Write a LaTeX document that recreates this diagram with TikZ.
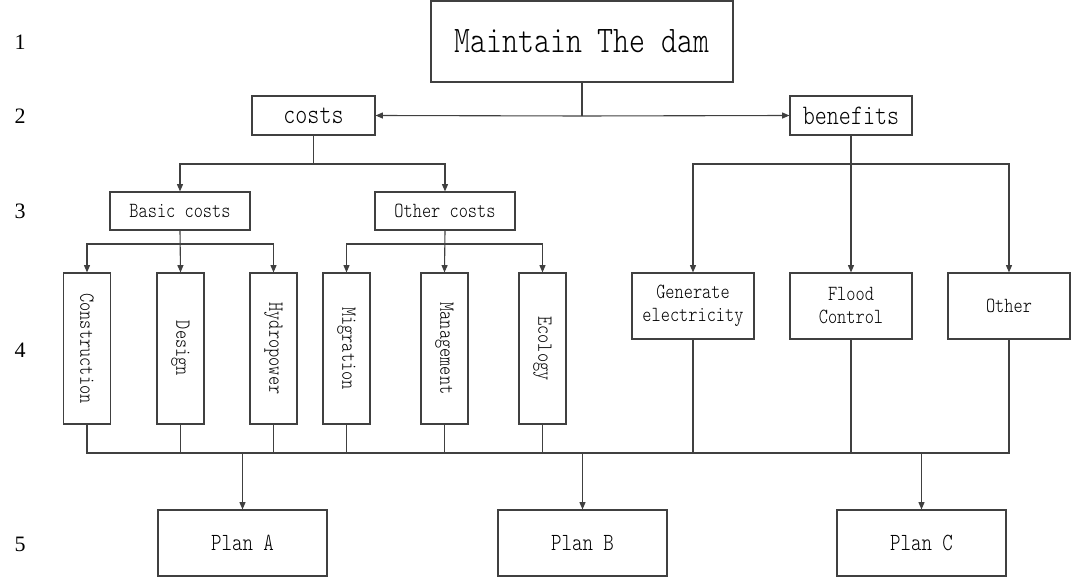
\documentclass[tikz,border=0pt]{standalone}
\usepackage{fontspec}
\usetikzlibrary{arrows.meta}
\newfontfamily\dmono[FakeStretch=0.81]{lmmonolt10-regular.otf}
\newfontfamily\dserif{Liberation Serif}
\def\px{0.75pt}
\tikzset{
  box/.style={draw=black!75, line width=1.1*\px, inner sep=0pt, align=center, text=black},
  lvl/.style={font=\dserif\fontsize{16.5}{18}\selectfont, inner sep=0pt},
  big/.style={box, font=\dmono\fontsize{28.2}{32}\selectfont},
  mid/.style={box, font=\dmono\fontsize{21.2}{24}\selectfont},
  sml/.style={box, font=\dmono\fontsize{16.2}{17.25}\selectfont},
  pln/.style={box, font=\dmono\fontsize{18.5}{21}\selectfont, minimum width=169*\px, minimum height=66*\px},
  vbox/.style={sml, minimum width=47*\px, minimum height=151*\px},
  hbox/.style={sml, minimum width=122*\px, minimum height=66*\px},
  ln/.style={draw=black!75, line width=1.1*\px},
  arr/.style={ln, -{Triangle[length=5.5pt,width=4.5pt]}},
}
\begin{document}
\begin{tikzpicture}[x=0.75pt, y=-0.75pt]
\useasboundingbox (0,0) rectangle (1072,577);
% level numbers
\node[lvl] (n1) at (20,42) {1};
\node[lvl] (n2) at (20,116) {2};
\node[lvl] (n3) at (20,211) {3};
\node[lvl] (n4) at (20,350) {4};
\node[lvl] (n5) at (20,544) {5};
% nodes
\node[big, minimum width=302*\px, minimum height=81*\px] (main) at (582,41.5) {Maintain The dam};
\node[mid, minimum width=123*\px, minimum height=39*\px] (costs) at (313.5,115.5) {costs};
\node[mid, minimum width=122*\px, minimum height=39*\px] (benefits) at (851,115.5) {benefits};
\node[sml, minimum width=140*\px, minimum height=38*\px] (basic) at (180,211) {Basic costs};
\node[sml, minimum width=140*\px, minimum height=38*\px] (othc) at (445,211) {Other costs};
\node[vbox] (cons) at (87,348.5) {\rotatebox{-90}{Construction}};
\node[vbox] (des) at (180.5,348.5) {\rotatebox{-90}{Design}};
\node[vbox] (hyd) at (273.5,348.5) {\rotatebox{-90}{Hydropower}};
\node[vbox] (mig) at (346.5,348.5) {\rotatebox{-90}{Migration}};
\node[vbox] (man) at (444.5,348.5) {\rotatebox{-90}{Management}};
\node[vbox] (eco) at (542.5,348.5) {\rotatebox{-90}{Ecology}};
\node[hbox] (gen) at (693,306) {Generate\\electricity};
\node[hbox] (flood) at (851,306) {Flood\\Control};
\node[hbox] (oth) at (1009,306) {Other};
\node[pln] (pa) at (242.5,543) {Plan A};
\node[pln] (pb) at (582.5,543) {Plan B};
\node[pln] (pc) at (921.5,543) {Plan C};
% junction coordinates
\coordinate (j1) at (582,116);
\coordinate (l2) at (0,164);
\coordinate (l3) at (0,244);
\coordinate (bus) at (0,453);
% level 1 -> 2
\draw[ln] (main.south) -- (j1);
\draw[arr] (j1) -- (costs.east);
\draw[arr] (j1) -- (benefits.west);
% costs -> level 3
\draw[arr] (costs.south) -- (costs.south |- l2) -| (basic.north);
\draw[arr] (costs.south |- l2) -| (othc.north);
% benefits -> level 4
\draw[arr] (benefits.south) -- (flood.north);
\draw[arr] (benefits.south |- l2) -| (gen.north);
\draw[arr] (benefits.south |- l2) -| (oth.north);
% basic -> 4
\draw[arr] (basic.south) -- (des.north);
\draw[arr] (basic.south |- l3) -| (cons.north);
\draw[arr] (basic.south |- l3) -| (hyd.north);
% other costs -> 4
\draw[arr] (othc.south) -- (man.north);
\draw[arr] (othc.south |- l3) -| (mig.north);
\draw[arr] (othc.south |- l3) -| (eco.north);
% bottom bus
\draw[ln] (cons.south) -- (cons.south |- bus) -- (oth.south |- bus) -- (oth.south);
\foreach \n in {des,hyd,mig,man,eco,gen,flood}{
  \draw[ln] (\n.south) -- (\n.south |- bus);
}
\draw[arr] (pa.north |- bus) -- (pa.north);
\draw[arr] (pb.north |- bus) -- (pb.north);
\draw[arr] (pc.north |- bus) -- (pc.north);
\end{tikzpicture}
\end{document}
